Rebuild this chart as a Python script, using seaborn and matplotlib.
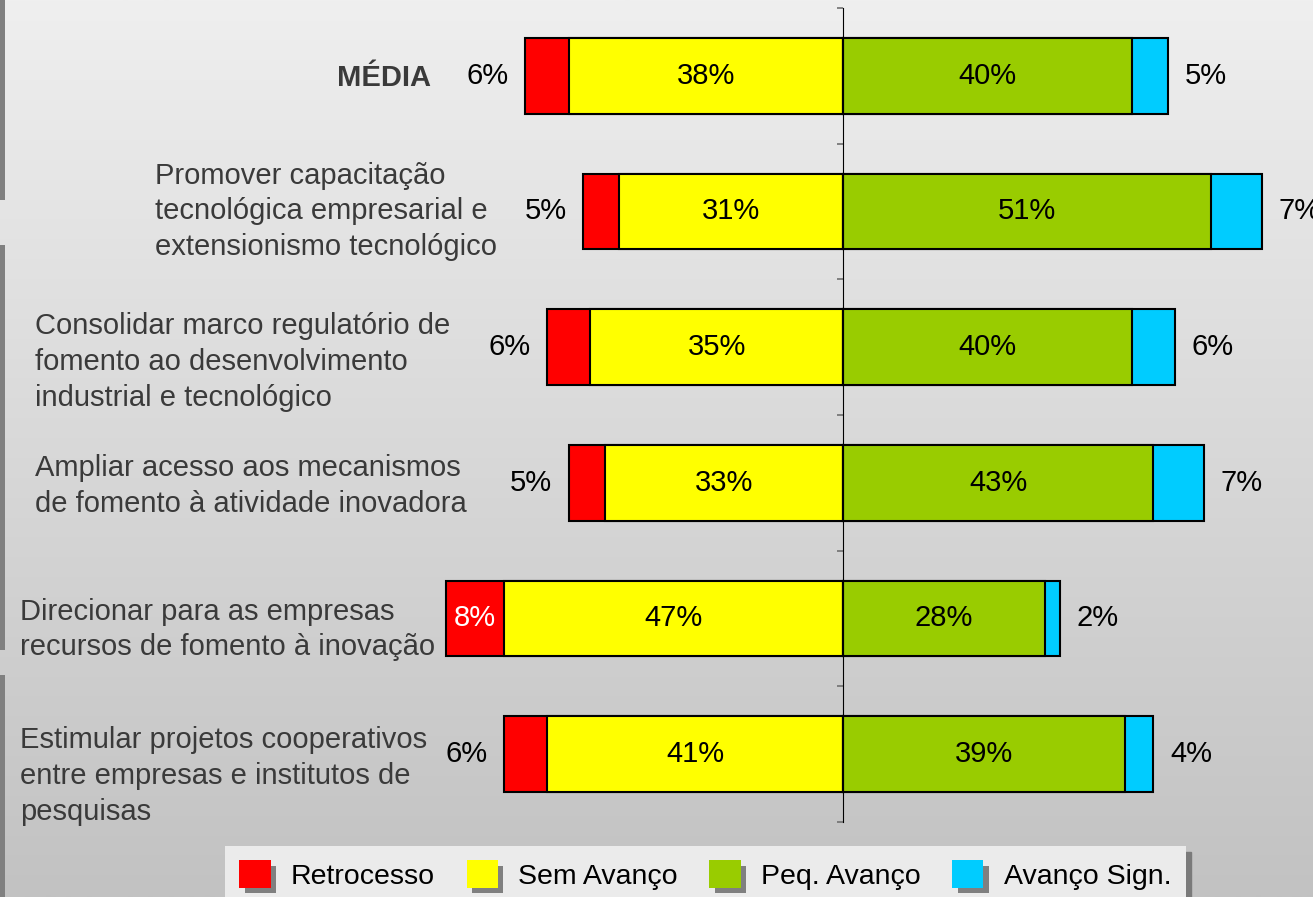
import numpy as np
import pandas as pd
import matplotlib
matplotlib.use("Agg")
import matplotlib.pyplot as plt
import matplotlib.patheffects as pe
from matplotlib.patches import Patch, Rectangle
import seaborn as sns

# ---------------- data ----------------
categories = [
    "MÉDIA",
    "Promover capacitação\ntecnológica empresarial e\nextensionismo tecnológico",
    "Consolidar marco regulatório de\nfomento ao desenvolvimento\nindustrial e tecnológico",
    "Ampliar acesso aos mecanismos\nde fomento à atividade inovadora",
    "Direcionar para as empresas\nrecursos de fomento à inovação",
    "Estimular projetos cooperativos\nentre empresas e institutos de\npesquisas",
]
retrocesso = [6, 5, 6, 5, 8, 6]
sem_avanco = [38, 31, 35, 33, 47, 41]
peq_avanco = [40, 51, 40, 43, 28, 39]
avanco_sign = [5, 7, 6, 7, 2, 4]
series_names = ["Retrocesso", "Sem Avanço", "Peq. Avanço", "Avanço Sign."]
series_colors = ["#ff0000", "#ffff00", "#99cc00", "#00ccff"]

# label layout (pixels)
label_left_px = [337, 155, 35, 35, 20, 20]
label_dy_px = [2, 0, 15, 3, 11, 22]

# ---------------- figure ----------------
W, H = 1313, 897
DPI = 100
sns.set_theme(style="white")
plt.rcParams["font.family"] = ["Liberation Sans", "DejaVu Sans"]

fig = plt.figure(figsize=(W / DPI, H / DPI), dpi=DPI)

# background gradient
bg = fig.add_axes([0, 0, 1, 1], zorder=-10)
g = np.linspace(239, 194, 256) / 255.0
grad = np.repeat(g[:, None, None], 3, axis=2)
bg.imshow(grad, aspect="auto", extent=[0, 1, 0, 1], interpolation="bilinear")
bg.axis("off")

# left decorative bars
for y0, y1 in [(0, 200), (245, 650), (675, 897)]:
    fig.add_artist(Rectangle((0, 1 - y1 / H), 5 / W, (y1 - y0) / H,
                             transform=fig.transFigure, color="#808080", lw=0))

zero_px = 843
px_per_unit = 7.22
ax_top_px, ax_bot_px = 8, 822
ax = fig.add_axes([0, 1 - ax_bot_px / H, 1, (ax_bot_px - ax_top_px) / H])
ax.patch.set_alpha(0)

df = pd.DataFrame({
    "cat": categories,
    "ret": retrocesso,
    "sem": sem_avanco,
    "peq": peq_avanco,
    "sig": avanco_sign,
})
df["left_total"] = -(df["ret"] + df["sem"])
df["left_sem"] = -df["sem"]
df["right_total"] = df["peq"] + df["sig"]

bar_kw = dict(data=df, y="cat", orient="h", order=categories, width=0.56,
              edgecolor="black", linewidth=1.5, saturation=1, errorbar=None, ax=ax)
sns.barplot(x="left_total", color=series_colors[0], **bar_kw)
sns.barplot(x="left_sem", color=series_colors[1], **bar_kw)
sns.barplot(x="right_total", color=series_colors[3], **bar_kw)
sns.barplot(x="peq", color=series_colors[2], **bar_kw)

ax.set_xlim(-zero_px / px_per_unit, (W - zero_px) / px_per_unit)
ax.set_ylim(len(categories) - 0.5, -0.5)
row_px = (ax_bot_px - ax_top_px) / len(categories)

# axis styling
for s in ["top", "right", "bottom"]:
    ax.spines[s].set_visible(False)
ax.spines["left"].set_position(("data", 0))
ax.spines["left"].set_color("black")
ax.spines["left"].set_linewidth(0.8)
ax.spines["left"].set_zorder(5)
ax.set_yticks(np.arange(-0.5, len(categories), 1.0))
ax.set_yticklabels([])
ax.tick_params(axis="y", direction="out", length=4.5, width=1.2, color="#707070", left=True)
ax.set_xticks([])
ax.set_xlabel("")
ax.set_ylabel("")

fs = 21
off = 5.2
for i in range(len(categories)):
    r, s_, p, b = retrocesso[i], sem_avanco[i], peq_avanco[i], avanco_sign[i]
    ax.text(-s_ / 2, i, f"{s_}%", ha="center", va="center", fontsize=fs, color="black", zorder=6)
    ax.text(p / 2, i, f"{p}%", ha="center", va="center", fontsize=fs, color="black", zorder=6)
    if r >= 8:
        ax.text(-(s_ + r / 2), i, f"{r}%", ha="center", va="center", fontsize=fs, color="white", zorder=6)
    else:
        ax.text(-(s_ + r) - off, i, f"{r}%", ha="center", va="center", fontsize=fs, color="black", zorder=6)
    ax.text(p + b + off, i, f"{b}%", ha="center", va="center", fontsize=fs, color="black",
            zorder=6, clip_on=False)
    lx = (label_left_px[i] - zero_px) / px_per_unit
    ly = i + label_dy_px[i] / row_px
    ax.text(lx, ly, categories[i], ha="left", va="center", fontsize=fs, color="#3a3a3a",
            linespacing=1.36, fontweight="bold" if i == 0 else "normal")

# legend
shadow_fx = [pe.withSimplePatchShadow(offset=(4, -4), shadow_rgbFace="#808080", alpha=1.0)]
handles = [Patch(facecolor=c, edgecolor="none", label=n, path_effects=shadow_fx)
           for c, n in zip(series_colors, series_names)]
leg = fig.legend(handles=handles, loc="upper left", bbox_to_anchor=(225 / W, 1 - 846 / H),
                 ncol=4, frameon=True, fancybox=False, facecolor="#ebebeb", edgecolor="none",
                 framealpha=1, fontsize=20.5, handlelength=1.1, handleheight=1.1,
                 handletextpad=0.72, columnspacing=1.1, borderpad=0.5, borderaxespad=0,
                 shadow={"ox": 4, "oy": -4, "color": "#7a7a7a", "alpha": 1})
for t in leg.get_texts():
    t.set_color("black")

fig.savefig("out.png", dpi=DPI)
